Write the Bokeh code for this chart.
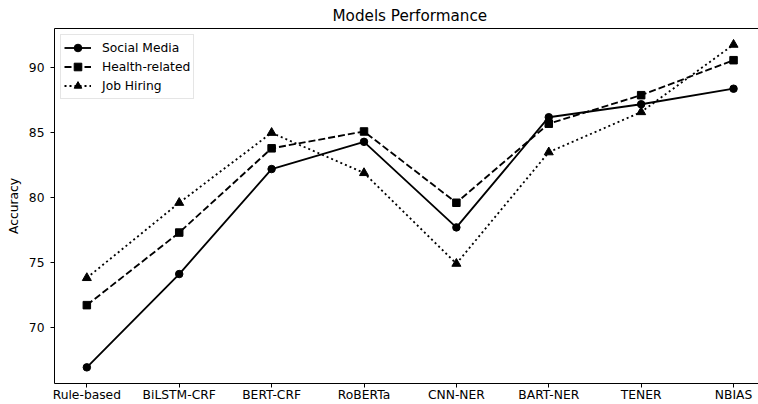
from bokeh.plotting import figure
from bokeh.models import Range1d, FixedTicker, LinearAxis
from bokeh.embed import file_html
from bokeh.resources import INLINE

models = ["Rule-based", "BiLSTM-CRF", "BERT-CRF", "RoBERTa", "CNN-NER", "BART-NER", "TENER", "NBIAS"]
social_media = [66.9, 74.1, 82.2, 84.3, 77.7, 86.2, 87.2, 88.4]
health_related = [71.7, 77.3, 83.8, 85.1, 79.6, 85.7, 87.9, 90.6]
job_hiring = [73.8, 79.6, 85.0, 81.9, 74.9, 83.5, 86.6, 91.8]
y_ticks = [70, 75, 80, 85, 90]

FONT = "DejaVu Sans"
xs = list(range(len(models)))

p = figure(width=758, height=404, output_backend="svg", toolbar_location=None,
           x_range=Range1d(-0.35, 7.27), y_range=Range1d(65.655, 93.045),
           min_border_left=54, min_border_right=0, min_border_top=28, min_border_bottom=21,
           title="Models Performance")
p.title.text_font = FONT
p.title.text_font_size = "15.2px"
p.title.text_font_style = "normal"
p.title.align = "left"
p.title.offset = 278
p.title.standoff = 7
p.title.text_color = "black"

p.grid.visible = False
p.outline_line_color = None

for ax in [p.xaxis[0], p.yaxis[0]]:
    ax.major_label_text_font = FONT
    ax.major_label_text_font_size = "12.3px"
    ax.major_label_text_color = "black"
    ax.axis_line_color = "black"
    ax.axis_line_width = 1
    ax.major_tick_line_color = "black"
    ax.major_tick_out = 4
    ax.major_tick_in = 0
    ax.minor_tick_out = 0
    ax.minor_tick_in = 0

p.xaxis[0].ticker = FixedTicker(ticks=xs)
p.xaxis[0].major_label_overrides = {i: m for i, m in enumerate(models)}
p.xaxis[0].major_label_standoff = 0
p.xaxis[0].major_label_text_line_height = 1.0
p.yaxis[0].ticker = FixedTicker(ticks=y_ticks)
p.yaxis[0].major_label_standoff = 6
p.yaxis[0].axis_label = "Accuracy"
p.yaxis[0].axis_label_text_font = FONT
p.yaxis[0].axis_label_text_font_size = "12.3px"
p.yaxis[0].axis_label_text_font_style = "normal"
p.yaxis[0].axis_label_text_color = "black"
p.yaxis[0].axis_label_standoff = 5

top = LinearAxis(ticker=FixedTicker(ticks=[]), major_label_text_font_size="0px",
                 major_tick_out=0, major_tick_in=0, minor_tick_out=0, minor_tick_in=0,
                 axis_line_color="black", axis_line_width=1, major_label_standoff=0)
p.add_layout(top, "above")

p.line(xs, social_media, line_color="black", line_width=1.85, legend_label="Social Media")
p.scatter(xs, social_media, marker="circle", size=7.5, color="black", legend_label="Social Media")

p.line(xs, health_related, line_color="black", line_width=1.85, line_dash="7 3", legend_label="Health-related")
p.scatter(xs, health_related, marker="square", size=7.5, color="black", legend_label="Health-related")

p.line(xs, job_hiring, line_color="black", line_width=1.85, line_dash="2 3", legend_label="Job Hiring")
p.scatter(xs, job_hiring, marker="triangle", size=9, color="black", legend_label="Job Hiring")

lg = p.legend[0]
lg.location = "top_left"
lg.margin = 6
lg.padding = 3
lg.spacing = 0
lg.glyph_width = 27
lg.glyph_height = 19
lg.label_height = 19
lg.label_standoff = 11
lg.label_text_font = FONT
lg.label_text_font_size = "12.3px"
lg.label_text_color = "black"
lg.border_line_color = "#cccccc"
lg.border_line_width = 1
lg.background_fill_alpha = 0.8

open("out.html", "w").write(file_html(p, INLINE))
